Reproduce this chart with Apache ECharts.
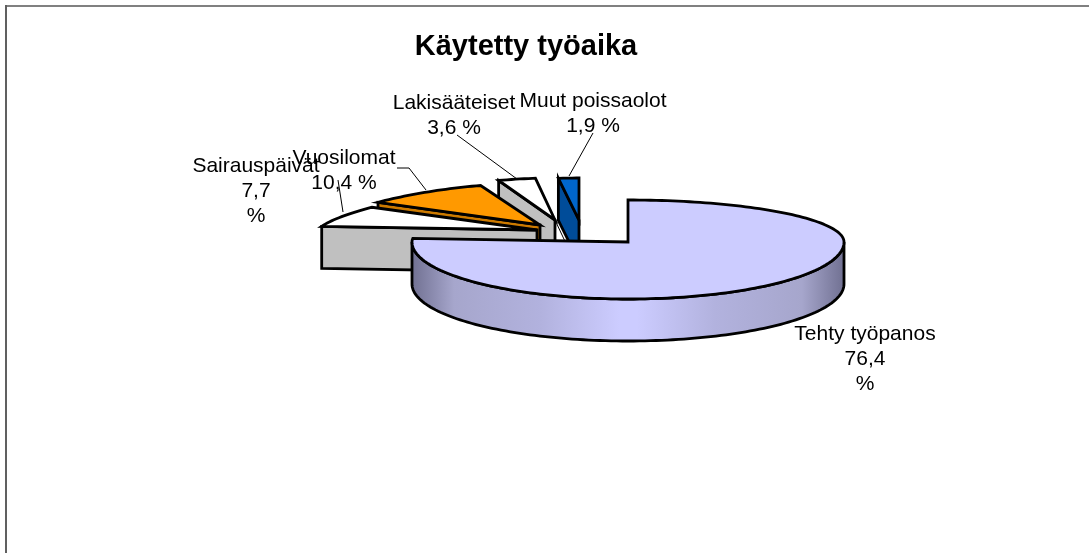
<!DOCTYPE html>
<html>
<head>
<meta charset="utf-8">
<style>
  html, body { margin: 0; padding: 0; background: #fff; }
  #chart { width: 1089px; height: 553px; }
</style>
</head>
<body>
<div id="chart"></div>
<script src="https://cdn.jsdelivr.net/npm/echarts@6/dist/echarts.min.js"></script>
<script>
var chartTitle = 'Käytetty työaika'
var categories = ['Tehty työpanos', 'Sairauspäivät', 'Vuosilomat', 'Lakisääteiset', 'Muut poissaolot']
var shares = [76.4, 7.7, 10.4, 3.6, 1.9]

// ---- drawing setup, one entry per slice ----
var font = '21px "Liberation Sans", Arial, sans-serif'
var lineStep = 25
var backDepth = 42
var frontDepth = 57
var wallHeight = 42
var sliceLook = [
  { apex: [628, 242], radius: 216, narrow: 0, top: '#ccccff', side: '#ccccff', label: [865, 334], breakPct: true, leader: [] },
  { apex: [537, 230], radius: 220, narrow: 0.2, top: '#ffffff', side: '#c0c0c0', label: [256, 166], breakPct: true, leader: [[338, 180], [343, 212]] },
  { apex: [540, 225], radius: 216, narrow: 0.2, top: '#ff9900', side: '#cc7a00', label: [344, 158], leader: [[397, 168], [409, 168], [426, 190]] },
  { apex: [555, 220], radius: 205, narrow: 0.2, top: '#ffffff', side: '#c0c0c0', label: [454, 103], leader: [[457, 135], [517, 179]], tail: 0.55 },
  { apex: [579, 220], radius: 216, narrow: 0.2, top: '#0066cc', side: '#004c99', label: [593, 101], leader: [[593, 133], [569, 176]] }
]

var sum = shares.reduce(function (a, b) { return a + b }, 0)
var angles = []
var run = 0
shares.forEach(function (v) {
  angles.push([run / sum * 360, (run + v) / sum * 360])
  run += v
})

function rim (look, deg) {
  var t = deg * Math.PI / 180
  var c = Math.cos(t)
  var rx = look.radius * (1 - look.narrow * Math.max(c, 0))
  return [look.apex[0] + Math.sin(t) * rx, look.apex[1] - c * (c > 0 ? backDepth : frontDepth)]
}

function arc (look, from, to) {
  var pts = []
  for (var a = from; a < to; a += 1.5) pts.push(rim(look, a))
  pts.push(rim(look, to))
  return pts
}

function drop (p) {
  return [p[0], p[1] + wallHeight]
}

var wallFill = new echarts.graphic.LinearGradient(0, 0, 1, 0, [
  { offset: 0, color: '#6f6f90' },
  { offset: 0.1, color: '#a6a6cc' },
  { offset: 0.3, color: '#b2b2de' },
  { offset: 0.48, color: '#ccccff' },
  { offset: 0.52, color: '#ccccff' },
  { offset: 0.7, color: '#b2b2de' },
  { offset: 0.9, color: '#a6a6cc' },
  { offset: 1, color: '#6f6f90' }
])

function poly (pts, fill) {
  return {
    type: 'polygon',
    shape: { points: pts },
    style: { fill: fill, stroke: '#000', lineWidth: 2.8, lineJoin: 'miter', miterLimit: 6 }
  }
}

function renderSlice (params, api) {
  var i = api.value(0)
  var look = sliceLook[i]
  var from = angles[i][0]
  var to = angles[i][1]
  var kids = []

  // outer wall, only the part that faces the viewer
  var wFrom = Math.max(from, 90)
  var wTo = Math.min(to, 270)
  if (wTo > wFrom) {
    var edge = arc(look, wFrom, wTo)
    kids.push(poly(edge.concat(edge.map(drop).reverse()), wallFill))
  }
  // cut face at the start of the slice, seen on the left half of the pie
  if (from > 180) {
    var outer = rim(look, from)
    kids.push(poly([look.apex, outer, drop(outer), drop(look.apex)], look.side))
  }
  kids.push(poly(arc(look, from, to).concat([look.apex]), look.top))

  if (look.tail) {
    var end = rim(look, to)
    kids.push({
      type: 'line',
      shape: {
        x1: look.apex[0],
        y1: look.apex[1],
        x2: look.apex[0] + (look.apex[0] - end[0]) * look.tail,
        y2: look.apex[1] + (look.apex[1] - end[1]) * look.tail
      },
      style: { stroke: '#000', lineWidth: 1 }
    })
  }
  return { type: 'group', children: kids }
}

function labelLine (text, x, y) {
  return {
    type: 'text',
    x: x,
    y: y,
    style: { text: text, font: font, fill: '#000', align: 'center', verticalAlign: 'middle' }
  }
}

function renderLabel (params, api) {
  var i = api.value(0)
  var look = sliceLook[i]
  var pct = String(shares[i]).replace('.', ',')
  var lines = look.breakPct ? [pct, '%'] : [pct + ' %']
  var x = look.label[0]
  var y = look.label[1]
  var kids = []
  if (look.leader.length) {
    kids.push({
      type: 'polyline',
      shape: { points: look.leader },
      style: { fill: 'none', stroke: '#000', lineWidth: 1 }
    })
  }
  kids.push(labelLine(categories[i], x, y))
  lines.forEach(function (t, n) {
    kids.push(labelLine(t, x, y + (n + 1) * lineStep))
  })
  return { type: 'group', children: kids }
}

// painted back to front: the last slice is furthest away
var paintOrder = shares.map(function (v, i) { return [i, v] }).reverse()

var chart = echarts.init(document.getElementById('chart'))
chart.setOption({
  animation: false,
  backgroundColor: '#fff',
  title: {
    text: chartTitle,
    left: 521,
    top: 27,
    textAlign: 'center',
    textStyle: { fontFamily: '"Liberation Sans", Arial, sans-serif', fontSize: 29, fontWeight: 'bold', color: '#000' }
  },
  graphic: [
    { type: 'line', shape: { x1: 6, y1: 6, x2: 1089, y2: 6 }, style: { stroke: '#808080', lineWidth: 2 } },
    { type: 'line', shape: { x1: 6, y1: 5, x2: 6, y2: 553 }, style: { stroke: '#606060', lineWidth: 2 } }
  ],
  series: [
    { type: 'custom', coordinateSystem: 'none', silent: true, z: 2, data: paintOrder, renderItem: renderSlice },
    { type: 'custom', coordinateSystem: 'none', silent: true, z: 3, data: [[1], [2], [3], [4], [0]], renderItem: renderLabel }
  ]
})
</script>
</body>
</html>
